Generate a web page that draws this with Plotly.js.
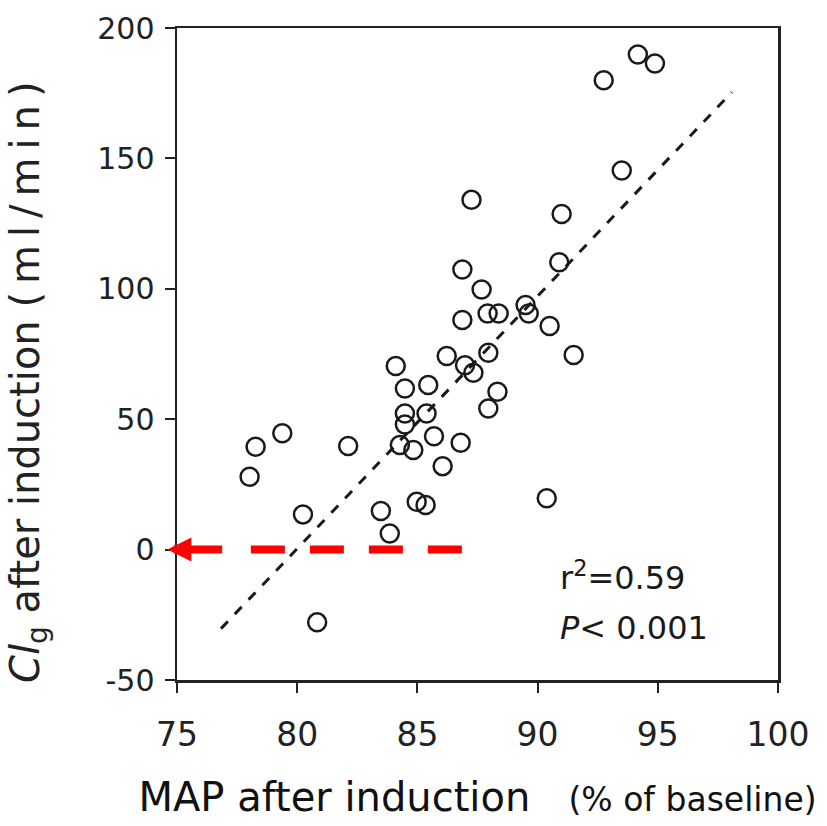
<!DOCTYPE html>
<html>
<head>
<meta charset="utf-8">
<script src="https://cdn.plot.ly/plotly-3.0.1.min.js"></script>
<style>html,body{margin:0;padding:0;background:#fff;}</style>
</head>
<body>
<div id="chart" style="width:827px;height:826px;"></div>
<script>
// MAP after induction (% of baseline)
const mapValues = [78.02, 78.27, 79.38, 80.24, 80.83, 82.12, 83.48, 83.85, 84.10, 84.48,
  84.48, 84.48, 84.27, 84.83, 84.97, 85.34, 85.38, 85.45, 85.69, 86.05,
  86.22, 86.80, 86.87, 86.87, 86.98, 87.25, 87.33, 87.67, 87.92, 87.95,
  87.95, 88.33, 88.38, 89.50, 89.63, 90.38, 90.50, 90.90, 91.00, 91.50,
  92.75, 93.50, 94.17, 94.88];
// CIg after induction (ml/min)
const clValues = [27.9, 39.4, 44.6, 13.5, -27.9, 39.7, 14.8, 6.2, 70.4, 61.8,
  52.2, 48.0, 40.1, 38.2, 18.3, 17.1, 52.2, 63.1, 43.5, 32.0,
  74.2, 41.0, 88.0, 107.4, 70.7, 134.1, 67.8, 99.7, 90.5, 75.5,
  54.1, 60.5, 90.5, 93.8, 90.5, 19.7, 85.7, 110.2, 128.7, 74.6,
  180.0, 145.4, 189.8, 186.4];
// regression line end points
const fitX = [76.83, 98.08];
const fitY = [-30.3, 175.4];
// red arrow marking CI = 0
const arrowY = 0;
const arrowStartX = 86.85;
const arrowDashEndX = 78.02;
const arrowShaftX = 76.94;
const arrowTipX = 74.6;
const xTicks = [75, 80, 85, 90, 95, 100];
const yTicks = [-50, 0, 50, 100, 150, 200];
const statLines = ["r<sup>2</sup>=0.59", "<i>P</i>< 0.001"];
const statX = 90.85;
const statY = [-10.2, -30.0];
const yTitleText = '<i>Cl</i><sub>g</sub> after induction (&#8201;m&#8201;l&#8201;/&#8201;m&#8201;i&#8201;n&#8201;)';

const ink = '#1a1a1a';
const traces = [
  {
    x: fitX, y: fitY, type: 'scatter', mode: 'lines',
    line: {color: ink, width: 3, dash: '10px,10px'},
    hoverinfo: 'skip', showlegend: false
  },
  {
    x: mapValues, y: clValues, type: 'scatter', mode: 'markers',
    marker: {symbol: 'circle-open', size: 18, color: ink, line: {width: 2.5, color: ink}},
    showlegend: false
  }
];

const layout = {
  width: 827, height: 826,
  margin: {l: 177, r: 49, t: 28, b: 146},
  paper_bgcolor: '#fff', plot_bgcolor: '#fff',
  showlegend: false,
  font: {family: 'DejaVu Sans, sans-serif', color: '#222'},
  xaxis: {
    range: [75, 100], tickvals: xTicks, ticktext: xTicks.map(String),
    ticks: 'outside', ticklen: 10, tickwidth: 2, tickcolor: '#222',
    showline: true, linecolor: '#222', linewidth: 2.5, mirror: true,
    showgrid: false, zeroline: false,
    tickfont: {size: 33, family: 'DejaVu Sans, sans-serif', color: '#222'},
    ticklabelstandoff: 14,
    title: {
      text: 'MAP after induction&nbsp;&nbsp;&nbsp;<span style="font-size:33px">(% of baseline)</span>',
      font: {size: 40, family: 'DejaVu Sans, sans-serif', color: '#111'},
      standoff: 30
    }
  },
  yaxis: {
    range: [-50, 200], tickvals: yTicks, ticktext: yTicks.map(String),
    ticks: 'outside', ticklen: 10, tickwidth: 2, tickcolor: '#222',
    showline: true, linecolor: '#222', linewidth: 2.5, mirror: true,
    showgrid: false, zeroline: false,
    tickfont: {size: 30, family: 'DejaVu Sans, sans-serif', color: '#222'},
    ticklabelstandoff: 4
  },
  shapes: [
    {
      type: 'line', xref: 'x', yref: 'y',
      x0: arrowStartX, x1: arrowDashEndX, y0: arrowY, y1: arrowY,
      line: {color: '#ff0000', width: 8, dash: '34px,25px'}
    }
  ],
  annotations: [
    {
      x: arrowTipX, y: arrowY, xref: 'x', yref: 'y',
      ax: arrowShaftX, ay: arrowY, axref: 'x', ayref: 'y',
      text: '', showarrow: true, arrowhead: 2, arrowsize: 0.6,
      arrowwidth: 8, arrowcolor: '#ff0000', standoff: 0, startstandoff: 0
    },
    {
      x: -0.248, y: 0.457, xref: 'paper', yref: 'paper',
      xanchor: 'center', yanchor: 'middle', textangle: -90, showarrow: false,
      text: yTitleText,
      font: {size: 40, family: 'DejaVu Sans, sans-serif', color: '#222'}
    }
  ].concat(statLines.map((t, i) => ({
    x: statX, y: statY[i], xref: 'x', yref: 'y',
    xanchor: 'left', yanchor: 'middle', showarrow: false,
    text: t, font: {size: 32, family: 'DejaVu Sans, sans-serif', color: '#1a1a1a'}
  })))
};

Plotly.newPlot('chart', traces, layout, {staticPlot: true, displayModeBar: false});
</script>
</body>
</html>
